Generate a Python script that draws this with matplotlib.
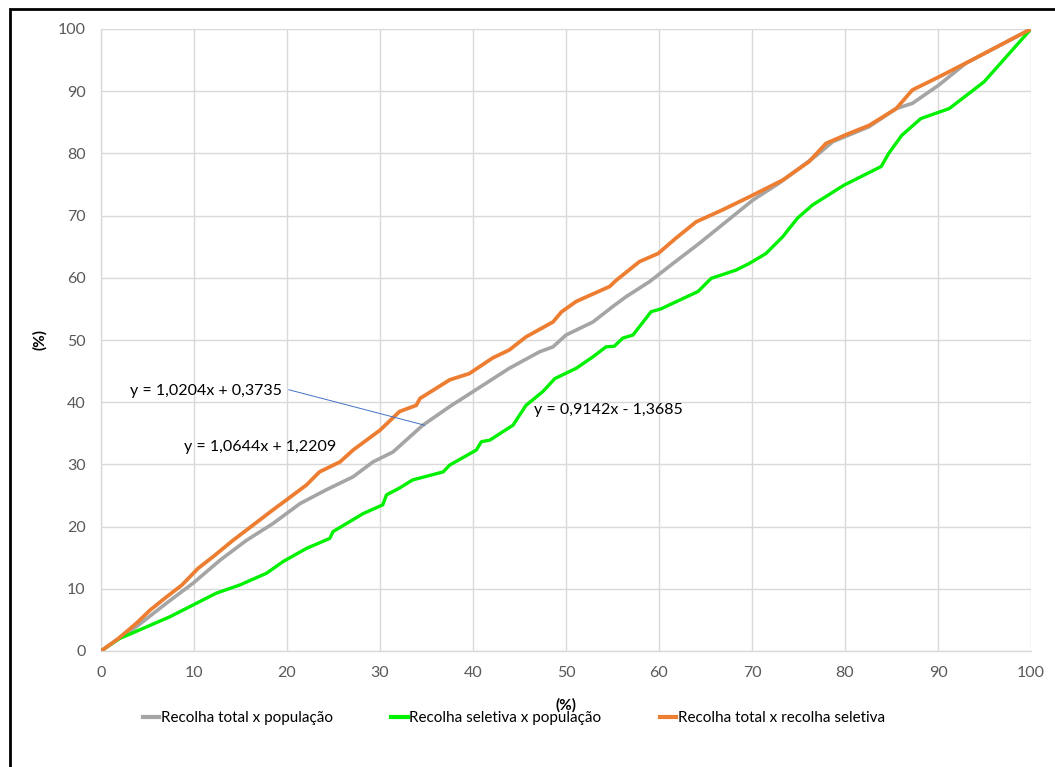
import matplotlib
matplotlib.use("Agg")
import matplotlib.pyplot as plt
from matplotlib.patches import Rectangle

plt.rcParams['font.family'] = ['Lato', 'DejaVu Sans']

# Data
grey_x = [0, 1.5, 3.8, 7.05, 9.9, 12.8, 15.65, 18.5, 21.4, 24.2, 27.1, 29.25, 31.4, 34.6, 37.5,
          40.0, 43.9, 47.15, 48.6, 50.0, 52.9, 55.0, 56.5, 59.0, 61.5, 64.3, 67.2, 70.1, 72.9,
          75.8, 77.2, 78.7, 80.5, 82.6, 85.5, 87.25, 90.1, 93.0, 100]
grey_y = [0, 1.6, 3.9, 7.7, 10.9, 14.6, 17.8, 20.5, 23.7, 25.9, 28.0, 30.4, 32.0, 36.3, 39.3,
          41.7, 45.45, 48.1, 48.9, 50.8, 52.9, 55.35, 57.0, 59.4, 62.3, 65.5, 69.0, 72.5, 75.2,
          78.4, 80.0, 81.9, 83.0, 84.3, 87.2, 88.05, 91.0, 94.5, 100]

green_x = [0, 2.0, 4.55, 7.4, 10.3, 12.4, 14.9, 17.8, 19.6, 22.1, 24.6, 24.95, 28.2, 30.3, 30.7,
           32.1, 33.5, 36.8, 37.5, 40.35, 40.9, 41.8, 44.3, 45.7, 46.4, 47.5, 48.8, 51.1, 52.9,
           54.3, 55.2, 56.1, 57.2, 59.15, 60.2, 64.2, 65.6, 68.3, 69.7, 71.5, 73.3, 74.9, 76.5,
           79.9, 83.9, 84.7, 86.1, 88.15, 91.2, 94.95, 100]
green_y = [0, 2.0, 3.65, 5.5, 7.7, 9.3, 10.6, 12.5, 14.4, 16.5, 18.1, 19.2, 22.1, 23.5, 25.1,
           26.2, 27.5, 28.8, 29.9, 32.3, 33.65, 33.9, 36.3, 39.5, 40.35, 41.7, 43.8, 45.45, 47.3,
           48.9, 49.0, 50.3, 50.8, 54.55, 55.0, 57.8, 59.9, 61.25, 62.3, 63.9, 66.6, 69.6, 71.7,
           74.9, 77.9, 80.0, 82.9, 85.6, 87.2, 91.5, 100]

orange_x = [0, 1.7, 3.8, 5.3, 7.05, 8.7, 10.45, 12.25, 14.2, 15.65, 17.1, 18.5, 19.95, 22.1, 23.5,
            25.7, 27.1, 30.0, 32.1, 33.9, 34.3, 37.5, 39.6, 42.1, 43.9, 45.7, 48.6, 49.5, 51.1,
            54.7, 55.4, 57.9, 59.9, 61.8, 64.0, 66.8, 69.7, 73.3, 76.15, 77.95, 80.1, 82.6, 85.5,
            87.25, 90.1, 93.3, 100]
orange_y = [0, 1.8, 4.45, 6.6, 8.7, 10.6, 13.3, 15.4, 17.8, 19.45, 21.1, 22.7, 24.3, 26.7, 28.8,
            30.4, 32.3, 35.5, 38.5, 39.5, 40.6, 43.6, 44.6, 47.1, 48.4, 50.5, 52.9, 54.5, 56.2,
            58.6, 59.6, 62.6, 63.9, 66.35, 69.0, 70.9, 73.0, 75.7, 78.7, 81.6, 83.0, 84.5, 87.2,
            90.2, 92.3, 94.75, 100]

series_labels = ["Recolha total x população", "Recolha seletiva x população",
                 "Recolha total x recolha seletiva"]
eq_labels = ["y = 1,0204x + 0,3735", "y = 0,9142x - 1,3685", "y = 1,0644x + 1,2209"]
ticks = list(range(0, 101, 10))

fig = plt.figure(figsize=(10.55, 7.67), dpi=100)
ax = fig.add_axes([101/1055, 1 - 651/767, (1031-101)/1055, (651-29)/767])

ax.plot(grey_x, grey_y, color='#A5A5A5', lw=2.6, label=series_labels[0], zorder=3)
ax.plot(green_x, green_y, color='#00F000', lw=2.4, label=series_labels[1], zorder=3)
ax.plot(orange_x, orange_y, color='#ED7D31', lw=2.7, label=series_labels[2], zorder=4)

ax.set_xlim(0, 100)
ax.set_ylim(0, 100)
ax.set_xticks(ticks)
ax.set_yticks(ticks)
ax.grid(True, color='#D9D9D9', lw=1.0, zorder=0)
ax.set_axisbelow(True)
for s in ['top', 'right']:
    ax.spines[s].set_visible(False)
for s in ['left', 'bottom']:
    ax.spines[s].set_color('#D9D9D9')
    ax.spines[s].set_linewidth(1.0)
ax.tick_params(length=0, labelsize=11.5, labelcolor='#595959')
ax.tick_params(axis='y', pad=11)
ax.tick_params(axis='x', pad=11)

ax.set_xlabel("(%)", fontsize=11, fontweight='bold', labelpad=13)
ax.set_ylabel("(%)", fontsize=11, fontweight='bold', labelpad=8)

# trendline equation labels
ax.text(3.1, 41.8, eq_labels[0], fontsize=11.5, va='center', ha='left', color='black')
ax.plot([20.2, 34.8], [42.0, 36.3], color='#4472C4', lw=0.7, zorder=5)
ax.text(46.6, 38.7, eq_labels[1], fontsize=11.5, va='center', ha='left', color='black', zorder=6)
ax.text(8.9, 32.8, eq_labels[2], fontsize=11.5, va='center', ha='left', color='black')

leg = fig.legend(loc='center', bbox_to_anchor=(0.487, 1 - 718/767), ncol=3, frameon=False,
                 fontsize=11, handlelength=1.1, handletextpad=0.1, columnspacing=3.8)
for line in leg.get_lines():
    line.set_linewidth(3)

# outer frame
fig.add_artist(Rectangle((10/1055, -0.05), 1.2, 1 - 9/767 + 0.05, transform=fig.transFigure,
                         fill=False, edgecolor='black', lw=2.0))

fig.savefig("out.png", dpi=100)
